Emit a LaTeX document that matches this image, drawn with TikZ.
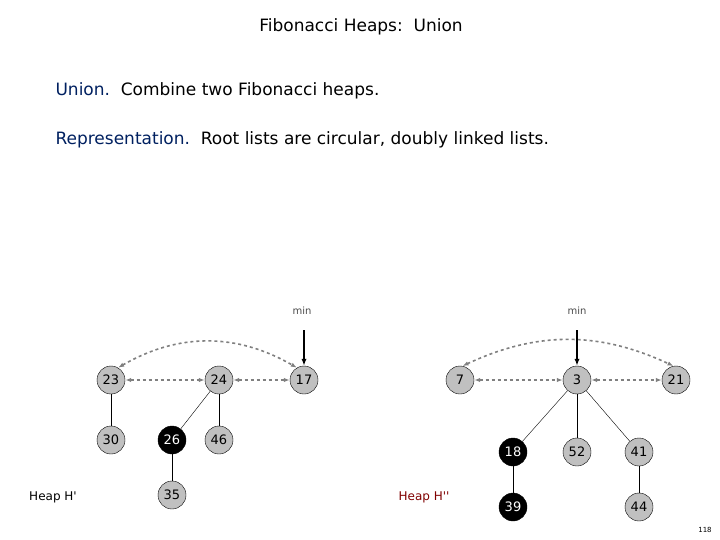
\documentclass[tikz,border=0pt]{standalone}
\usepackage{fontspec}
\setmainfont{DejaVu Sans}
\usetikzlibrary{arrows.meta}
\definecolor{nodegray}{RGB}{192,192,192}
\definecolor{linkgray}{RGB}{128,128,128}
\definecolor{keyblue}{RGB}{0,32,96}
\definecolor{heapred}{RGB}{128,0,0}
\tikzset{
  key/.style={circle,draw=black,fill=nodegray,minimum size=28pt,inner sep=0pt,font=\fontsize{13}{13}\selectfont},
  marked/.style={key,fill=black,text=white},
  link/.style={draw=linkgray,dashed,line width=1.6pt,{Latex[length=6pt]}-{Latex[length=6pt]}},
  minptr/.style={-{Latex[length=7pt]},line width=1.6pt}
}
\begin{document}
\begin{tikzpicture}[x=1pt,y=-1pt]
  \useasboundingbox (0,0) rectangle (720,540);

  % Titles
  \node (title) at (361,27) {\fontsize{17}{17}\selectfont Fibonacci Heaps:\ \ Union};
  \node[anchor=west] (union) at (52,91) {\fontsize{17}{17}\selectfont\textcolor{keyblue}{Union.}\ \ Combine two Fibonacci heaps.};
  \node[anchor=west] (repr) at (52,140) {\fontsize{17}{17}\selectfont\textcolor{keyblue}{Representation.}\ \ Root lists are circular, doubly linked lists.};

  % Heap H'
  \node[key] (k23) at (111,380) {23};
  \node[key] (k24) at (219,380) {24};
  \node[key] (k17) at (304,380) {17};
  \node[key] (k30) at (111,440) {30};
  \node[marked] (k26) at (172,440) {26};
  \node[key] (k46) at (219,440) {46};
  \node[key] (k35) at (172,495) {35};
  \draw (k23) -- (k30);
  \draw (k24) -- (k26);
  \draw (k24) -- (k46);
  \draw (k26) -- (k35);
  \draw[link] (k23) -- (k24);
  \draw[link] (k24) -- (k17);
  \draw[link] (k23.60) to[out=30,in=150] (k17.120);

  % Heap H''
  \node[key] (k7) at (460,380) {7};
  \node[key] (k3) at (577,380) {3};
  \node[key] (k21) at (676,380) {21};
  \node[marked] (k18) at (513,452) {18};
  \node[key] (k52) at (577,452) {52};
  \node[key] (k41) at (639,452) {41};
  \node[marked] (k39) at (513,507) {39};
  \node[key] (k44) at (639,507) {44};
  \draw (k3) -- (k18);
  \draw (k3) -- (k52);
  \draw (k3) -- (k41);
  \draw (k18) -- (k39);
  \draw (k41) -- (k44);
  \draw[link] (k7) -- (k3);
  \draw[link] (k3) -- (k21);
  \draw[link] (k7.80) to[out=25,in=155] (k21.100);

  % Min pointers
  \node[font=\fontsize{10}{10}\selectfont,text=black!70] (min1) at (302,311) {min};
  \node[font=\fontsize{10}{10}\selectfont,text=black!70] (min2) at (577,311) {min};
  \coordinate (p1) at (304,330);
  \coordinate (p2) at (577,330);
  \draw[minptr] (p1) -- (k17.north);
  \draw[minptr] (p2) -- (k3.north);

  % Labels
  \node[font=\fontsize{12}{12}\selectfont] (hp1) at (53,497) {Heap H\textquotesingle};
  \node[font=\fontsize{12}{12}\selectfont,text=heapred] (hp2) at (424,497) {Heap H\textquotesingle\textquotesingle};
  \node[font=\fontsize{7}{7}\selectfont] (page) at (705,530) {118};
\end{tikzpicture}
\end{document}
